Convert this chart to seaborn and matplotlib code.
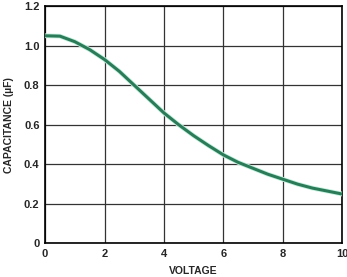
import matplotlib
matplotlib.use("Agg")
import matplotlib.pyplot as plt
import seaborn as sns
import pandas as pd

voltage = [0, 0.5, 1, 1.5, 2, 2.5, 3, 3.5, 4, 4.5, 5, 5.5, 6, 6.5, 7, 7.5, 8, 8.5, 9, 9.5, 10]
capacitance = [1.05, 1.048, 1.02, 0.98, 0.93, 0.87, 0.80, 0.73, 0.66, 0.60, 0.545, 0.495,
               0.448, 0.41, 0.38, 0.35, 0.325, 0.30, 0.28, 0.265, 0.25]
xticks = [0, 2, 4, 6, 8, 10]
yticks = [0, 0.2, 0.4, 0.6, 0.8, 1.0, 1.2]
yticklabels = ["0", "0.2", "0.4", "0.6", "0.8", "1.0", "1.2"]

sns.set_style("white")
plt.rcParams['font.family'] = ['Liberation Sans', 'DejaVu Sans']

df = pd.DataFrame({"V": voltage, "C": capacitance})

fig = plt.figure(figsize=(3.47, 2.77), dpi=100)
ax = fig.add_axes([0.13, 0.121, 0.856, 0.857])

ax.grid(True, color="#333333", linewidth=0.9)
ax.set_axisbelow(True)
sns.lineplot(data=df, x="V", y="C", ax=ax, color="#c4f2e0", linewidth=3.4, zorder=3)
sns.lineplot(data=df, x="V", y="C", ax=ax, color="#2b7b58", linewidth=2.2, zorder=4)

ax.set_xlim(0, 10)
ax.set_ylim(0, 1.2)
ax.set_xticks(xticks)
ax.set_xticklabels([str(t) for t in xticks], fontsize=8, fontweight="bold")
ax.set_yticks(yticks)
ax.set_yticklabels(yticklabels, fontsize=8, fontweight="bold")
ax.tick_params(length=0, pad=4)
for s in ax.spines.values():
    s.set_color("black")
    s.set_linewidth(1.2)

ax.set_xlabel("VOLTAGE", fontsize=7.5, fontweight="bold", labelpad=5)
ax.set_ylabel("CAPACITANCE (µF)", fontsize=7.5, fontweight="bold", labelpad=7)

fig.savefig("out.png", dpi=100)
